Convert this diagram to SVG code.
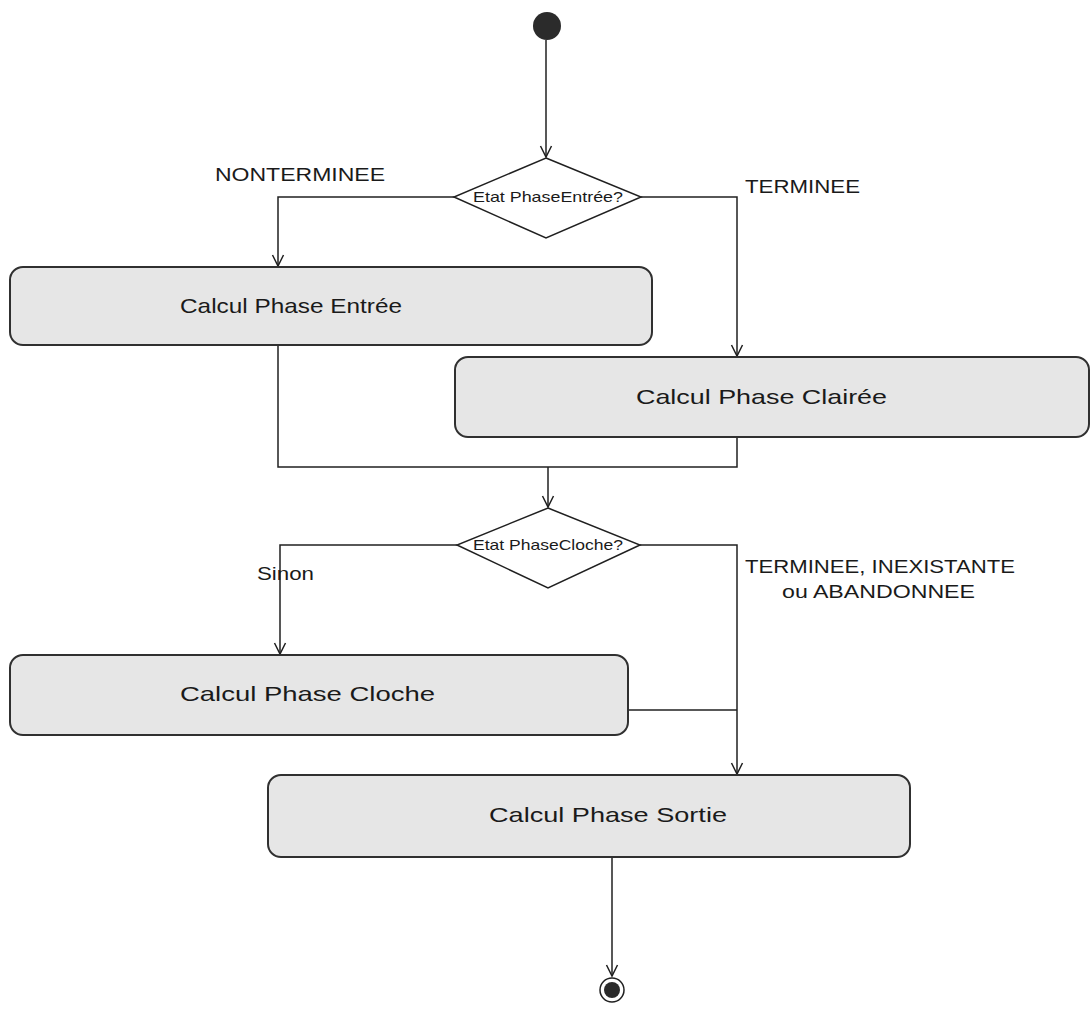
<svg xmlns="http://www.w3.org/2000/svg" width="1091" height="1009" viewBox="0 0 1091 1009">
  <style>
    .act { fill: #e6e6e6; stroke: #303030; stroke-width: 2; }
    .dec { fill: #ffffff; stroke: #202020; stroke-width: 1.5; }
    .wire { fill: none; stroke: #202020; stroke-width: 1.5; }
    .lbl { font-family: "Liberation Sans", Arial, sans-serif; fill: #1a1a1a; }
    .act-t { font-size: 21px; }
    .dec-t { font-size: 15px; }
    .edge-t { font-size: 18px; }
  </style>
  <defs>
    <marker id="arr" markerWidth="16" markerHeight="16" refX="13" refY="8" orient="auto" markerUnits="userSpaceOnUse">
      <path d="M2,2.5 L13,8 L2,13.5" fill="none" stroke="#202020" stroke-width="1.5"/>
    </marker>
  </defs>
  <rect width="1091" height="1009" fill="#ffffff"/>

  <!-- connectors -->
  <g id="connectors" class="wire">
    <path d="M546,40 V157" marker-end="url(#arr)"/>
    <path d="M454,197 H278 V266" marker-end="url(#arr)"/>
    <path d="M641,197 H737 V356" marker-end="url(#arr)"/>
    <path d="M278,345 V467 H737 V437"/>
    <path d="M548,467 V507" marker-end="url(#arr)"/>
    <path d="M457,545 H280 V654" marker-end="url(#arr)"/>
    <path d="M640,545 H737 V774" marker-end="url(#arr)"/>
    <path d="M628,710 H737"/>
    <path d="M612,857 V976" marker-end="url(#arr)"/>
  </g>

  <!-- start -->
  <g id="start">
    <circle cx="547" cy="26" r="14" fill="#2b2b2b"/>
  </g>

  <!-- decision 1 -->
  <g id="decision-entree">
    <polygon class="dec" points="546,158 641,197 546,238 454,197"/>
    <text class="lbl dec-t" x="473" y="202" textLength="150" lengthAdjust="spacingAndGlyphs">Etat PhaseEntrée?</text>
  </g>

  <!-- edge labels -->
  <g id="labels">
    <text class="lbl edge-t" x="215" y="181" textLength="170" lengthAdjust="spacingAndGlyphs">NONTERMINEE</text>
    <text class="lbl edge-t" x="745" y="193" textLength="115" lengthAdjust="spacingAndGlyphs">TERMINEE</text>
    <text class="lbl edge-t" x="257" y="580" textLength="57" lengthAdjust="spacingAndGlyphs">Sinon</text>
    <text class="lbl edge-t" x="745" y="573" textLength="270" lengthAdjust="spacingAndGlyphs">TERMINEE, INEXISTANTE</text>
    <text class="lbl edge-t" x="782" y="598" textLength="193" lengthAdjust="spacingAndGlyphs">ou ABANDONNEE</text>
  </g>

  <!-- activities -->
  <g id="calcul-entree">
    <rect class="act" x="10" y="267" width="642" height="78" rx="13"/>
    <text class="lbl act-t" x="180" y="313" textLength="222" lengthAdjust="spacingAndGlyphs">Calcul Phase Entrée</text>
  </g>
  <g id="calcul-clairee">
    <rect class="act" x="455" y="357" width="634" height="80" rx="13"/>
    <text class="lbl act-t" x="636" y="404" textLength="251" lengthAdjust="spacingAndGlyphs">Calcul Phase Clairée</text>
  </g>

  <!-- decision 2 -->
  <g id="decision-cloche">
    <polygon class="dec" points="548,508 640,545 548,588 457,545"/>
    <text class="lbl dec-t" x="473" y="550" textLength="150" lengthAdjust="spacingAndGlyphs">Etat PhaseCloche?</text>
  </g>

  <g id="calcul-cloche">
    <rect class="act" x="10" y="655" width="618" height="80" rx="13"/>
    <text class="lbl act-t" x="180" y="701" textLength="255" lengthAdjust="spacingAndGlyphs">Calcul Phase Cloche</text>
  </g>
  <g id="calcul-sortie">
    <rect class="act" x="268" y="775" width="642" height="82" rx="13"/>
    <text class="lbl act-t" x="489" y="822" textLength="238" lengthAdjust="spacingAndGlyphs">Calcul Phase Sortie</text>
  </g>

  <!-- end -->
  <g id="end">
    <circle cx="612" cy="990" r="12" fill="#ffffff" stroke="#202020" stroke-width="1.5"/>
    <circle cx="612" cy="990" r="8" fill="#2b2b2b"/>
  </g>
</svg>
